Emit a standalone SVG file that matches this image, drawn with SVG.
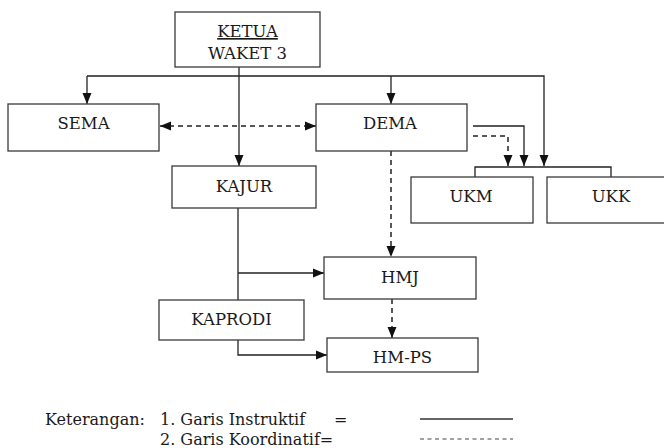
<svg xmlns="http://www.w3.org/2000/svg" width="664" height="448" viewBox="0 0 664 448">
<style>
.box{fill:#fff;stroke:#3a3a3a;stroke-width:1.3}
.t{font-family:"DejaVu Serif","Liberation Serif",serif;font-size:16.5px;fill:#1a1a1a;text-anchor:middle}
.lg{font-family:"DejaVu Serif","Liberation Serif",serif;font-size:16px;fill:#1a1a1a}
.s{fill:none;stroke:#222;stroke-width:1.3}
.d{fill:none;stroke:#222;stroke-width:1.5;stroke-dasharray:5,4}
</style>
<defs>
<marker id="ah" viewBox="0 0 11 10" refX="11" refY="5" markerWidth="11" markerHeight="10" markerUnits="userSpaceOnUse" orient="auto-start-reverse" overflow="visible">
<path d="M0,0.5 L11,5 L0,9.5 Z" fill="#111"/>
</marker>
</defs>
<rect width="664" height="448" fill="#fff"/>
<g id="connectors">
<path class="s" d="M239,67 V166" marker-end="url(#ah)"/>
<path class="s" d="M87,76 H544 V166" marker-end="url(#ah)"/>
<path class="s" d="M87,76 V104" marker-end="url(#ah)"/>
<path class="s" d="M391,76 V104" marker-end="url(#ah)"/>
<path class="d" d="M160,126 H316" marker-start="url(#ah)" marker-end="url(#ah)"/>
<path class="s" d="M473,126 H524 V166" marker-end="url(#ah)"/>
<path class="d" d="M473,136 H508 V166" marker-end="url(#ah)"/>
<path class="s" d="M475,177 V167 H611 V177"/>
<path class="d" d="M391,151 V257" marker-end="url(#ah)"/>
<path class="s" d="M238,208 V300"/>
<path class="s" d="M238,273 H324" marker-end="url(#ah)"/>
<path class="s" d="M238,340 V355 H327" marker-end="url(#ah)"/>
<path class="d" d="M392,299 V338" marker-end="url(#ah)"/>
</g>
<g id="ketua">
<rect class="box" x="175" y="12" width="145" height="55"/>
<text class="t" x="247.5" y="37" text-decoration="underline">KETUA</text>
<text class="t" x="247.5" y="59">WAKET 3</text>
</g>
<g id="sema">
<rect class="box" x="8" y="104" width="151" height="47"/>
<text class="t" x="83.5" y="129">SEMA</text>
</g>
<g id="dema">
<rect class="box" x="316" y="104" width="151" height="47"/>
<text class="t" x="390" y="129">DEMA</text>
</g>
<g id="kajur">
<rect class="box" x="172" y="166" width="144" height="42"/>
<text class="t" x="244" y="192">KAJUR</text>
</g>
<g id="ukm">
<rect class="box" x="411" y="177" width="122" height="46"/>
<text class="t" x="471" y="202">UKM</text>
</g>
<g id="ukk">
<rect class="box" x="547" y="177" width="130" height="46"/>
<text class="t" x="611" y="202">UKK</text>
</g>
<g id="hmj">
<rect class="box" x="324" y="257" width="152" height="42"/>
<text class="t" x="400" y="283">HMJ</text>
</g>
<g id="kaprodi">
<rect class="box" x="159" y="300" width="145" height="40"/>
<text class="t" x="231.5" y="325">KAPRODI</text>
</g>
<g id="hmps">
<rect class="box" x="327" y="338" width="151" height="34"/>
<text class="t" x="402.5" y="363">HM-PS</text>
</g>
<g id="legend">
<text class="lg" x="45" y="425">Keterangan:</text>
<text class="lg" x="160" y="425">1. Garis Instruktif</text>
<text class="lg" x="334" y="425">=</text>
<text class="lg" x="160" y="445">2. Garis Koordinatif=</text>
<line x1="420" y1="419" x2="513" y2="419" stroke="#333" stroke-width="1.3"/>
<line x1="420" y1="439" x2="513" y2="439" stroke="#444" stroke-width="1.2" stroke-dasharray="4,3.5"/>
</g>
</svg>
